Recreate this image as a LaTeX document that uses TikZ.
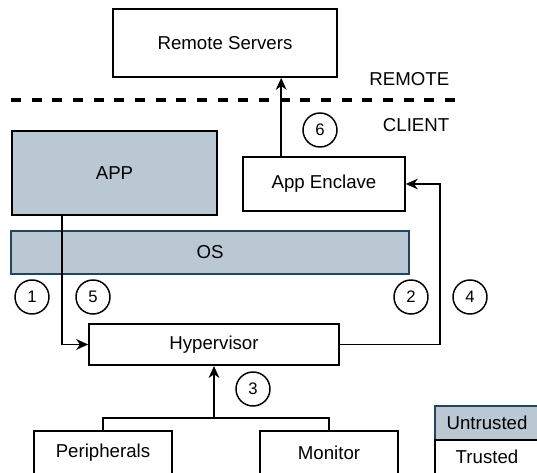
\documentclass[tikz,border=0pt]{standalone}
\usepackage{fontspec}
\setmainfont{Liberation Sans}
\usetikzlibrary{arrows.meta}
\definecolor{untrusted}{HTML}{BAC8D3}
\definecolor{osedge}{HTML}{23445D}
\begin{document}
\begin{tikzpicture}[x = 0.75pt, y = -0.75pt,
	box/.style = {draw, line width = 1.2pt, inner sep = 0pt, font = \fontsize{14}{16}\selectfont},
	shaded/.style = {box, fill = untrusted},
	stepnum/.style = {draw, circle, line width = 1.1pt, minimum size = 25.5pt, inner sep = 0pt, font = \fontsize{12.5}{14}\selectfont},
	link/.style = {line width = 1.2pt},
	arr/.style = {link, -{Stealth[length = 9pt, width = 8pt, inset = 2.8pt]}}]
				%	page
				\clip (0, 0) rectangle (537, 473);
				\fill[white] (0, 0) rectangle (537, 473);
				
				%	remote side
				\node[box, minimum width = 168pt, minimum height = 51pt] (remote) at (225, 43) {Remote Servers};
				\draw[line width = 2.5pt, dash pattern = on 7.5pt off 8pt] (11, 100) -- (456, 100);
				\node[anchor = east, font = \fontsize{14}{16}\selectfont] (remotelbl) at (454, 79) {REMOTE};
				\node[anchor = east, font = \fontsize{14}{16}\selectfont] (clientlbl) at (454, 125) {CLIENT};
				
				%	client side
				\node[shaded, minimum width = 154pt, minimum height = 63pt] (app) at (114.5, 173) {APP};
				\node[box, minimum width = 121.5pt, minimum height = 40.5pt] (enclave) at (324, 184) {App Enclave};
				\node[shaded, draw = osedge, minimum width = 298.5pt, minimum height = 32pt] (os) at (210, 252.5) {OS};
				\node[box, minimum width = 187.5pt, minimum height = 31pt] (hyper) at (214, 344.5) {Hypervisor};
				\node[box, minimum width = 103.5pt, minimum height = 33pt] (periph) at (103, 453) {Peripherals};
				\node[box, minimum width = 103.5pt, minimum height = 33pt] (monitor) at (329, 453) {Monitor};
				
				%	legend
				\node[shaded, draw = osedge, minimum width = 78pt, minimum height = 25.5pt] (untr) at (487, 423) {Untrusted};
				\node[box, minimum width = 78pt, minimum height = 25.5pt] (tr) at (487, 457) {Trusted};
				
				%	steps
				\node[stepnum] (s1) at (32, 297) {1};
				\node[stepnum] (s2) at (411, 297) {2};
				\node[stepnum] (s3) at (253, 389) {3};
				\node[stepnum] (s4) at (470, 297) {4};
				\node[stepnum] (s5) at (93, 297) {5};
				\node[stepnum] (s6) at (320, 130) {6};
				
				%	connectors
				\draw[arr] ([xshift = 38.25pt]app.south west) |- (hyper.west);
				\draw[arr] (hyper.east) -- ++(100, 0) |- (enclave.east);
				\coordinate (up) at ([xshift = 29.25pt]enclave.north west);
				\draw[arr] (up) -- (up |- remote.south);
				\coordinate (join) at ([yshift = -39pt]hyper.south);
				\draw[link] (periph.north) |- (join) -| (monitor.north);
				\draw[arr] (join) -- (hyper.south);
\end{tikzpicture}
\end{document}
